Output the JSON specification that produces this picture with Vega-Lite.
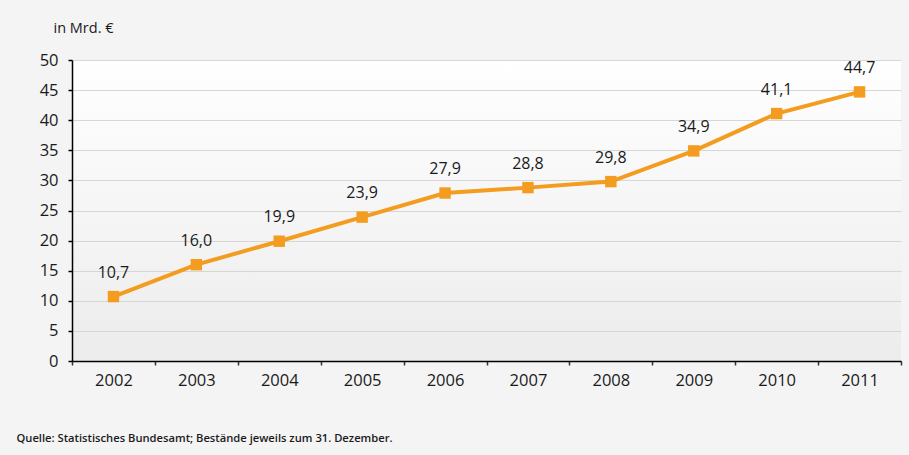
{
  "$schema": "https://vega.github.io/schema/vega-lite/v6.json",
  "width": 829,
  "height": 301,
  "autosize": {"type": "none"},
  "padding": {"left": 72, "top": 60, "right": 8, "bottom": 94},
  "background": "#f4f4f4",
  "config": {
    "locale": {"number": {"decimal": ",", "thousands": ".", "grouping": [3], "currency": ["", " €"]}},
    "font": "Open Sans",
    "view": {"stroke": null, "fill": {"gradient": "linear", "x1": 0, "y1": 0, "x2": 0, "y2": 1, "stops": [{"offset": 0, "color": "#ffffff"}, {"offset": 1, "color": "#ececec"}]}}
  },
  "data": {
    "values": [
      {"Jahr": "2002", "Wert": 10.7},
      {"Jahr": "2003", "Wert": 16.0},
      {"Jahr": "2004", "Wert": 19.9},
      {"Jahr": "2005", "Wert": 23.9},
      {"Jahr": "2006", "Wert": 27.9},
      {"Jahr": "2007", "Wert": 28.8},
      {"Jahr": "2008", "Wert": 29.8},
      {"Jahr": "2009", "Wert": 34.9},
      {"Jahr": "2010", "Wert": 41.1},
      {"Jahr": "2011", "Wert": 44.7}
    ]
  },
  "encoding": {
    "x": {
      "field": "Jahr", "type": "ordinal",
      "scale": {"paddingInner": 0, "paddingOuter": 0},
      "axis": {
        "title": "Quelle: Statistisches Bundesamt; Bestände jeweils zum 31. Dezember.",
        "titleAnchor": "start", "titleAlign": "left", "titleBaseline": "middle",
        "titleX": -56, "titleY": 77,
        "titleFont": "Open Sans", "titleFontSize": 11.2, "titleFontWeight": 600, "titleColor": "#1a1a1a",
        "labelAngle": 0, "labelFontSize": 16.5, "labelColor": "#1a1a1a", "labelPadding": 7,
        "domainColor": "#000000", "domainWidth": 1.5,
        "tickBand": "extent", "tickColor": "#333333", "tickSize": 4, "tickWidth": 1.5,
        "grid": false
      }
    },
    "y": {
      "field": "Wert", "type": "quantitative",
      "scale": {"domain": [0, 50], "nice": false},
      "axis": {
        "title": "in Mrd. €",
        "titleAngle": 0, "titleAlign": "left", "titleBaseline": "middle",
        "titleX": -19, "titleY": -32,
        "titleFontSize": 14.5, "titleFontWeight": "normal", "titleColor": "#1a1a1a",
        "values": [0, 5, 10, 15, 20, 25, 30, 35, 40, 45, 50],
        "format": "d",
        "labelFontSize": 16.5, "labelColor": "#1a1a1a", "labelPadding": 10,
        "domainColor": "#000000", "domainWidth": 1.5,
        "tickColor": "#000000", "tickSize": 4, "tickWidth": 1.5,
        "grid": true, "gridColor": "#d6d6d6", "gridWidth": 1
      }
    }
  },
  "layer": [
    {"mark": {"type": "line", "color": "#f39c1f", "strokeWidth": 4}},
    {"mark": {"type": "square", "color": "#f39c1f", "size": 130, "opacity": 1, "filled": true}},
    {
      "mark": {"type": "text", "dy": -24, "fontSize": 16, "color": "#1a1a1a", "baseline": "middle"},
      "encoding": {"text": {"field": "Wert", "type": "quantitative", "format": ".1f"}}
    }
  ]
}
